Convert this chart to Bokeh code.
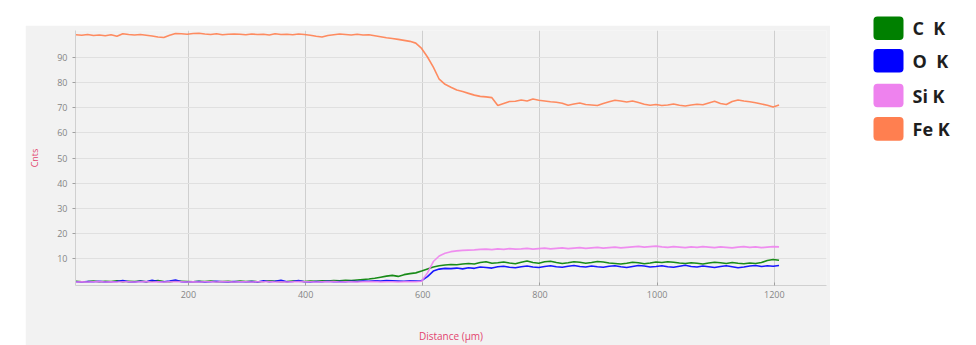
import numpy as np
from bokeh.plotting import figure
from bokeh.layouts import row
from bokeh.models import Range1d, FixedTicker
from bokeh.core.properties import value
from bokeh.embed import file_html
from bokeh.resources import INLINE

# Line-scan positions (µm), one reading every 10 µm
distance = np.arange(8, 1209, 10)

# Counts per element along the scan
fe_k = [98.8, 98.6, 98.9, 98.5, 98.7, 98.4, 98.8, 98.2,
        99.2, 98.9, 98.7, 98.9, 98.6, 98.3, 97.9, 97.7, 98.6, 99.3,
        99.2, 99.0, 99.3, 99.4, 99.1, 98.9, 99.2, 98.8, 99.0, 99.1,
        99.0, 98.8, 99.1, 98.9, 99.0, 98.7, 99.2, 98.9, 99.0, 98.8,
        99.1, 98.9, 98.6, 98.2, 97.9, 98.5, 98.8, 99.1, 98.9, 98.7,
        99.0, 98.7, 98.8, 98.4, 98.0, 97.6, 97.3, 97.0, 96.6, 96.2,
        95.5, 93.4, 90.0, 86.0, 81.2, 79.2, 78.0, 76.9, 76.3, 75.6,
        74.9, 74.4, 74.2, 73.9, 70.8, 71.6, 72.4, 72.5, 73.0, 72.6,
        73.4, 72.9, 72.6, 72.3, 72.1, 71.7, 70.9, 71.4, 71.8, 71.2,
        71.0, 70.8, 71.6, 72.3, 72.9, 72.6, 72.2, 72.6, 72.0, 71.3,
        70.9, 71.2, 70.8, 71.0, 71.4, 70.9, 70.6, 71.0, 71.3, 71.1,
        71.8, 72.5, 71.6, 71.2, 72.4, 73.0, 72.6, 72.3, 71.9, 71.4,
        70.9, 70.2, 71.0]

c_k = [1.2, 1.0, 1.1, 1.3, 1.0, 1.2, 1.1, 1.4, 1.0, 1.2,
       1.1, 1.3, 1.0, 1.2, 1.5, 1.1, 1.0, 1.3, 1.2, 1.1,
       1.0, 1.2, 1.1, 1.3, 1.0, 1.1, 1.2, 1.0, 1.3, 1.1,
       1.2, 1.0, 1.1, 1.4, 1.2, 1.0, 1.1, 1.3, 1.2, 1.1,
       1.3, 1.2, 1.4, 1.3, 1.5, 1.4, 1.6, 1.5, 1.7, 1.9,
       2.1, 2.4, 2.8, 3.2, 3.5, 3.1, 3.8, 4.2, 4.5, 5.2,
       6.0, 6.8, 7.3, 7.6, 7.8, 7.7, 8.0, 8.2, 8.0, 8.6,
       8.9, 8.3, 8.5, 8.8, 8.4, 8.1, 8.7, 9.2, 8.6, 8.3,
       8.9, 9.1, 8.6, 8.2, 8.5, 8.9, 8.7, 8.3, 8.6, 9.0,
       8.8, 8.4, 8.2, 8.0, 8.3, 8.7, 8.5, 8.1, 8.4, 8.8,
       8.6, 8.9, 8.7, 8.4, 8.2, 8.5, 8.3, 8.0, 8.4, 8.7,
       8.5, 8.2, 8.6, 8.3, 8.1, 8.4, 8.2, 8.6, 9.4, 9.8,
       9.5]

o_k = [1.0, 0.9, 1.1, 1.0, 1.2, 0.9, 1.0, 1.1, 1.5, 1.0,
       0.9, 1.2, 1.0, 1.6, 1.1, 1.0, 1.3, 1.7, 1.0, 0.9,
       1.0, 1.1, 0.9, 1.0, 1.2, 1.0, 0.9, 1.1, 1.0, 1.0,
       1.1, 0.9, 1.4, 1.0, 1.2, 1.6, 1.0, 1.1, 1.5, 1.0,
       0.9, 1.1, 1.0, 1.2, 1.0, 1.1, 1.0, 1.2, 1.1, 1.3,
       1.2, 1.4, 1.3, 1.5, 1.4, 1.3, 1.2, 1.4, 1.3, 1.4,
       3.0, 5.2, 6.0, 6.3, 6.2, 6.4, 6.1, 6.5, 6.3, 6.8,
       6.6, 6.4, 6.9, 7.1, 6.7, 6.5, 6.9, 7.2, 6.8, 6.6,
       7.0, 7.3, 6.9, 6.7, 7.1, 7.4, 7.0, 6.8, 7.2, 6.9,
       6.7, 7.1, 7.3, 6.9, 6.6, 7.0, 7.4, 7.2, 6.8, 7.0,
       7.3, 6.9, 6.7, 7.1, 7.5, 7.0, 6.8, 7.2, 6.9, 6.6,
       7.0, 7.3, 6.9, 6.5, 6.8, 7.2, 7.4, 7.0, 7.3, 7.1,
       7.4]

si_k = [0.9, 1.0, 0.9, 1.0, 1.1, 0.9, 1.0, 0.9, 1.0, 1.0,
        0.9, 1.0, 1.1, 0.9, 1.0, 0.9, 1.0, 1.1, 1.0, 0.9,
        1.0, 0.9, 1.0, 1.0, 0.9, 1.1, 1.0, 0.9, 1.0, 1.0,
        0.9, 1.0, 1.0, 1.1, 0.9, 1.0, 0.9, 1.0, 1.1, 1.0,
        1.0, 0.9, 1.0, 1.0, 1.1, 0.9, 1.0, 1.0, 0.9, 1.0,
        1.0, 1.1, 0.9, 1.0, 1.0, 0.9, 1.0, 1.1, 1.0, 1.2,
        4.5, 9.0, 11.2, 12.3, 12.9, 13.2, 13.4, 13.5, 13.6, 13.8,
        13.9, 13.7, 14.0, 13.8, 14.1, 13.9, 14.0, 14.2, 13.9, 14.1,
        14.3, 14.0, 14.2, 14.4, 14.1, 14.3, 14.5, 14.2, 14.4, 14.6,
        14.3, 14.5, 14.7, 14.4, 14.6, 14.8, 15.0, 14.7, 14.9, 15.1,
        14.8, 14.6, 14.9, 14.7, 14.5, 14.8, 14.6, 14.9, 14.7, 14.5,
        14.8, 14.6, 14.4, 14.7, 14.9, 14.6, 14.8, 14.5, 14.7, 14.9,
        14.8]

# Element names (non-breaking spaces keep the wide gap in the one-letter names)
elements = ["C\u00a0\u00a0K", "O\u00a0\u00a0K", "Si K", "Fe K"]
element_colors = ["#008000", "#0000ff", "#ee82ee", "#ff7f50"]
series = [c_k, o_k, si_k, fe_k]

y_ticks = [10, 20, 30, 40, 50, 60, 70, 80, 90]
x_ticks = [200, 400, 600, 800, 1000, 1200]

BG = "#f2f2f2"
LABEL_RED = "#e2436e"

p = figure(width=805, height=320, output_backend="svg", toolbar_location=None,
           x_range=Range1d(7.3, 1289), y_range=Range1d(-0.5, 100.5),
           min_border_left=49, min_border_right=4, min_border_top=5,
           min_border_bottom=56)
p.margin = (25, 0, 0, 25)
p.background_fill_color = BG
p.border_fill_color = BG
p.outline_line_color = None

p.xgrid.ticker = FixedTicker(ticks=x_ticks)
p.ygrid.ticker = FixedTicker(ticks=y_ticks)
p.xgrid.grid_line_color = "#cfcfcf"
p.ygrid.grid_line_color = "#e0e0e0"

p.xaxis.ticker = FixedTicker(ticks=x_ticks)
p.yaxis.ticker = FixedTicker(ticks=y_ticks)
for ax in (p.xaxis, p.yaxis):
    ax.axis_line_color = "#d0d0d0"
    ax.major_tick_line_color = "#a0a0a0"
    ax.minor_tick_line_color = None
    ax.major_label_text_color = "#858585"
    ax.major_label_text_font = "Open Sans"
    ax.major_label_text_font_size = "9px"
    ax.axis_label_text_color = LABEL_RED
    ax.axis_label_text_font = "Open Sans"
    ax.axis_label_text_font_style = "normal"
p.xaxis.major_tick_in = 3
p.xaxis.major_tick_out = 0
p.yaxis.major_tick_in = 0
p.yaxis.major_tick_out = 3
p.xaxis.axis_label = "Distance (µm)"
p.yaxis.axis_label = "Cnts"
p.xaxis.axis_label_text_font_size = "10px"
p.yaxis.axis_label_text_font_size = "9px"
p.xaxis.axis_label_standoff = 28
p.yaxis.axis_label_standoff = 13

for vals, col in zip(series, element_colors):
    p.line(distance, vals, line_color=col, line_width=1.6, line_alpha=0.9)

# Legend panel: colour swatches with element names
lg = figure(width=146, height=345, output_backend="svg", toolbar_location=None,
            x_range=Range1d(0, 146), y_range=Range1d(345, 0),
            min_border=0)
lg.axis.visible = False
lg.grid.visible = False
lg.outline_line_color = None
lg.background_fill_color = "white"
lg.border_fill_color = "white"

sw_x = [58] * 4
sw_y = [28, 68, 111, 152]
lg.rect(sw_x, sw_y, width=30, height=29, fill_color=element_colors,
        line_color=None, border_radius=4)
lg.text([82] * 4, sw_y, text=elements, text_font=value("Open Sans"),
        text_font_size="18px", text_font_style="bold", text_color="#1e1e1e",
        text_baseline="middle")

layout = row(p, lg)
layout.spacing = 0

open("out.html", "w").write(file_html(layout, INLINE))
